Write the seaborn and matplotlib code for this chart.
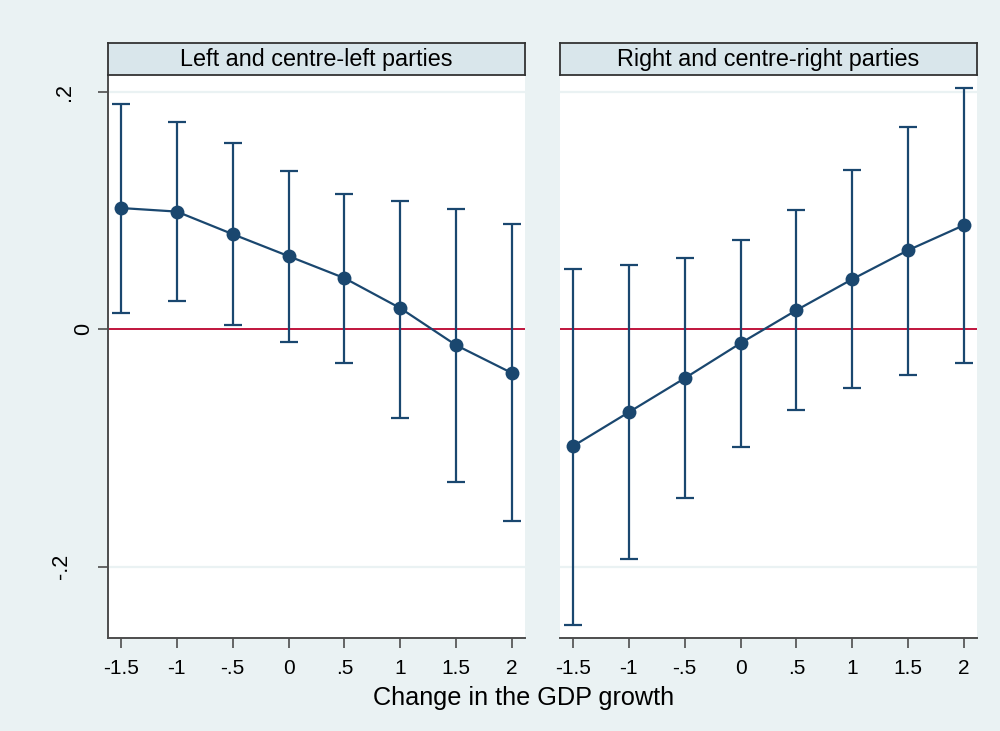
import matplotlib
matplotlib.use("Agg")
import matplotlib.pyplot as plt
import matplotlib.transforms as mtransforms
import numpy as np
import pandas as pd
import seaborn as sns

# Marginal effects by change in GDP growth, with 95% confidence intervals
gdp_change = [-1.5, -1.0, -0.5, 0.0, 0.5, 1.0, 1.5, 2.0]

left_effect = [0.102, 0.099, 0.080, 0.0615, 0.043, 0.0177, -0.0135, -0.037]
left_upper = [0.1895, 0.1743, 0.1566, 0.133, 0.1137, 0.1078, 0.101, 0.0884]
left_lower = [0.0135, 0.0236, 0.0034, -0.011, -0.0286, -0.075, -0.1288, -0.1617]

right_effect = [-0.0985, -0.0699, -0.0413, -0.0118, 0.016, 0.0421, 0.0665, 0.0876]
right_upper = [0.0505, 0.0539, 0.0598, 0.075, 0.1002, 0.1339, 0.1701, 0.203]
right_lower = [-0.249, -0.1937, -0.1423, -0.0994, -0.0682, -0.0497, -0.0387, -0.0286]

panel_titles = ["Left and centre-left parties", "Right and centre-right parties"]
x_ticks = [-1.5, -1.0, -0.5, 0.0, 0.5, 1.0, 1.5, 2.0]
x_tick_labels = ["-1.5", "-1", "-.5", "0", ".5", "1", "1.5", "2"]
y_ticks = [-0.2, 0.0, 0.2]
y_tick_labels = ["-.2", "0", ".2"]

sns.set_theme(style="white")
plt.rcParams["font.family"] = ["Liberation Sans", "DejaVu Sans"]

BG = "#eaf2f3"
STRIP = "#d9e6eb"
NAVY = "#1a476f"
ZERO = "#c0143c"
SPINE = "#4d4d4d"

fig = plt.figure(figsize=(10, 7.31), dpi=100, facecolor=BG)
W, H = 1000, 731

panels = [
    dict(x0=108, x1=525, effect=left_effect, upper=left_upper, lower=left_lower),
    dict(x0=560, x1=977, effect=right_effect, upper=right_upper, lower=right_lower),
]
plot_top, plot_bottom = 75, 638
strip_top = 43

# horizontal placement (figure pixels) of the rotated y tick labels
y_label_x = {"-.2": 61, "0": 83.5, ".2": 65}

for i, p in enumerate(panels):
    ax = fig.add_axes([p["x0"] / W, (H - plot_bottom) / H,
                       (p["x1"] - p["x0"]) / W, (plot_bottom - plot_top) / H])
    ax.set_facecolor("white")

    df = pd.DataFrame({"x": gdp_change, "y": p["effect"],
                       "lo": p["lower"], "hi": p["upper"]})

    # grid lines and zero reference line
    for yv in y_ticks:
        if yv != 0:
            ax.axhline(yv, color=BG, lw=1.6, zorder=0)
    ax.axhline(0, color=ZERO, lw=1.4, zorder=1)

    # confidence intervals
    ax.errorbar(df["x"], df["y"],
                yerr=[df["y"] - df["lo"], df["hi"] - df["y"]],
                fmt="none", ecolor=NAVY, elinewidth=1.6,
                capsize=6.5, capthick=1.6, zorder=2)
    sns.lineplot(data=df, x="x", y="y", ax=ax, color=NAVY, lw=1.6,
                 marker="o", markersize=10, markeredgewidth=0,
                 markerfacecolor=NAVY, zorder=3)

    ax.set_xlim(-1.616, 2.116)
    ax.set_ylim(-0.260, 0.214)
    ax.set_xticks(x_ticks)
    ax.set_xticklabels(x_tick_labels, fontsize=15, color="black")
    ax.set_xlabel("")
    ax.set_ylabel("")
    ax.tick_params(axis="x", direction="out", length=7, width=1.2,
                   color=SPINE, pad=8, bottom=True)

    for side in ["top", "right"]:
        ax.spines[side].set_visible(False)
    ax.spines["bottom"].set_color(SPINE)
    ax.spines["bottom"].set_linewidth(1.4)
    ax.set_yticks(y_ticks)
    ax.set_yticklabels([])
    if i == 0:
        ax.spines["left"].set_color(SPINE)
        ax.spines["left"].set_linewidth(1.4)
        ax.tick_params(axis="y", direction="out", length=7, width=1.2,
                       color=SPINE, left=True)
        trans = mtransforms.blended_transform_factory(fig.transFigure, ax.transData)
        for yv, lab in zip(y_ticks, y_tick_labels):
            ax.text(y_label_x[lab] / W, yv, lab, transform=trans,
                    rotation=90, ha="center", va="center",
                    fontsize=15.5, color="black")
    else:
        ax.spines["left"].set_visible(False)
        ax.tick_params(axis="y", length=0)

    # panel header strip
    sax = fig.add_axes([p["x0"] / W, (H - plot_top) / H,
                        (p["x1"] - p["x0"]) / W, (plot_top - strip_top) / H])
    sax.set_facecolor(STRIP)
    sax.set_xticks([])
    sax.set_yticks([])
    for s in sax.spines.values():
        s.set_color("#333333")
        s.set_linewidth(1.3)
    sax.text(0.5, 0.47, panel_titles[i], ha="center", va="center",
             fontsize=16.8, color="black", transform=sax.transAxes)

fig.text(524 / W, 1 - 698 / H, "Change in the GDP growth",
         ha="center", va="center", fontsize=18.2, color="black")

fig.savefig("out.png", dpi=100, facecolor=BG)
